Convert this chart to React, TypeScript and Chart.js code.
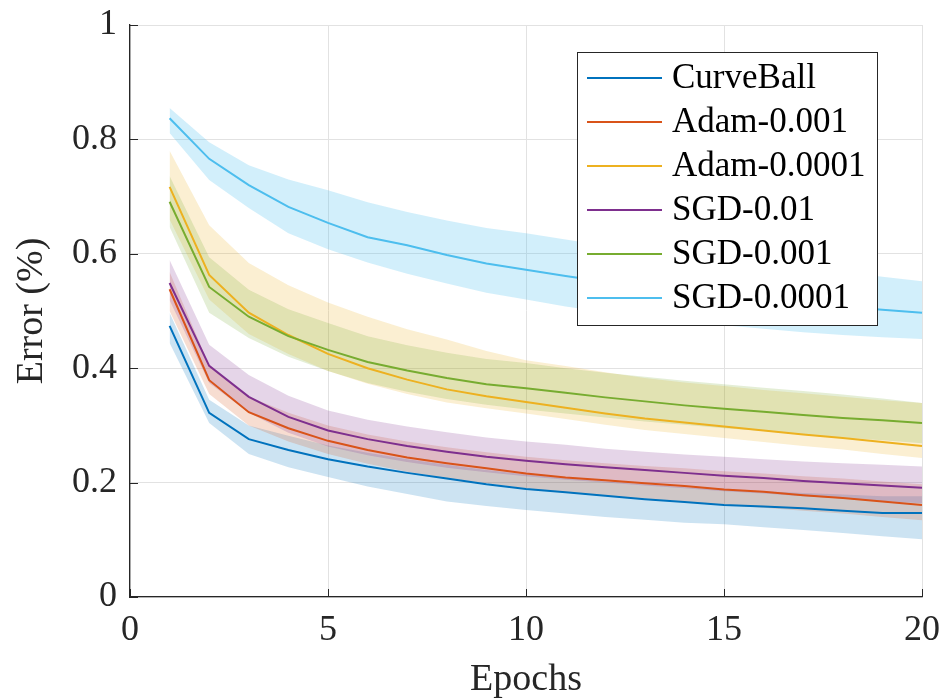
import React, { useEffect, useRef } from 'react';
import { Chart, registerables } from 'chart.js';

Chart.register(...registerables);

const epochs = [1, 2, 3, 4, 5, 6, 7, 8, 9, 10, 11, 12, 13, 14, 15, 16, 17, 18, 19, 20];

const seriesLabels = ['CurveBall', 'Adam-0.001', 'Adam-0.0001', 'SGD-0.01', 'SGD-0.001', 'SGD-0.0001'];

const curveBallMean = [0.474, 0.322, 0.276, 0.257, 0.241, 0.228, 0.217, 0.207, 0.197, 0.189, 0.183, 0.177, 0.171, 0.166, 0.161, 0.158, 0.155, 0.151, 0.147, 0.147];
const curveBallUpper = [0.497, 0.345, 0.300, 0.282, 0.265, 0.252, 0.241, 0.231, 0.222, 0.214, 0.208, 0.202, 0.197, 0.192, 0.188, 0.185, 0.182, 0.179, 0.176, 0.176];
const curveBallLower = [0.444, 0.304, 0.250, 0.227, 0.210, 0.193, 0.180, 0.167, 0.159, 0.152, 0.146, 0.140, 0.135, 0.130, 0.127, 0.122, 0.117, 0.112, 0.106, 0.101];

const adam1Mean = [0.538, 0.379, 0.323, 0.295, 0.273, 0.257, 0.244, 0.234, 0.225, 0.216, 0.209, 0.204, 0.199, 0.194, 0.188, 0.184, 0.178, 0.173, 0.167, 0.161];
const adam1Upper = [0.568, 0.405, 0.350, 0.322, 0.300, 0.284, 0.272, 0.262, 0.253, 0.245, 0.239, 0.234, 0.229, 0.225, 0.220, 0.216, 0.211, 0.207, 0.202, 0.197];
const adam1Lower = [0.500, 0.355, 0.300, 0.272, 0.250, 0.233, 0.219, 0.208, 0.199, 0.190, 0.183, 0.177, 0.172, 0.167, 0.161, 0.156, 0.151, 0.146, 0.140, 0.134];

const adam2Mean = [0.717, 0.563, 0.497, 0.458, 0.425, 0.400, 0.380, 0.363, 0.351, 0.341, 0.331, 0.321, 0.312, 0.305, 0.298, 0.291, 0.284, 0.278, 0.271, 0.264];
const adam2Upper = [0.780, 0.650, 0.584, 0.545, 0.515, 0.490, 0.468, 0.450, 0.430, 0.414, 0.404, 0.393, 0.383, 0.375, 0.369, 0.362, 0.356, 0.350, 0.344, 0.339];
const adam2Lower = [0.660, 0.520, 0.460, 0.425, 0.395, 0.373, 0.355, 0.340, 0.330, 0.321, 0.311, 0.301, 0.292, 0.285, 0.278, 0.271, 0.264, 0.258, 0.250, 0.243];

const sgd1Mean = [0.549, 0.404, 0.350, 0.315, 0.291, 0.276, 0.264, 0.254, 0.245, 0.238, 0.232, 0.227, 0.222, 0.217, 0.212, 0.208, 0.203, 0.199, 0.195, 0.191];
const sgd1Upper = [0.589, 0.441, 0.388, 0.352, 0.326, 0.310, 0.298, 0.288, 0.279, 0.272, 0.266, 0.259, 0.254, 0.249, 0.245, 0.241, 0.237, 0.234, 0.231, 0.228];
const sgd1Lower = [0.519, 0.374, 0.322, 0.287, 0.263, 0.248, 0.236, 0.226, 0.218, 0.211, 0.205, 0.200, 0.195, 0.190, 0.185, 0.181, 0.176, 0.172, 0.168, 0.164];

const sgd2Mean = [0.691, 0.542, 0.490, 0.456, 0.432, 0.411, 0.396, 0.383, 0.372, 0.365, 0.357, 0.349, 0.342, 0.335, 0.329, 0.324, 0.318, 0.313, 0.309, 0.304];
const sgd2Upper = [0.736, 0.594, 0.537, 0.503, 0.479, 0.456, 0.440, 0.427, 0.416, 0.409, 0.400, 0.392, 0.385, 0.378, 0.372, 0.366, 0.360, 0.354, 0.347, 0.339];
const sgd2Lower = [0.647, 0.497, 0.453, 0.420, 0.395, 0.374, 0.359, 0.346, 0.336, 0.328, 0.321, 0.314, 0.307, 0.301, 0.295, 0.290, 0.284, 0.279, 0.274, 0.269];

const sgd3Mean = [0.837, 0.766, 0.720, 0.682, 0.654, 0.629, 0.615, 0.598, 0.583, 0.572, 0.561, 0.551, 0.542, 0.534, 0.527, 0.521, 0.514, 0.508, 0.502, 0.497];
const sgd3Upper = [0.855, 0.795, 0.755, 0.730, 0.711, 0.690, 0.673, 0.658, 0.645, 0.636, 0.625, 0.614, 0.605, 0.597, 0.589, 0.582, 0.575, 0.568, 0.560, 0.552];
const sgd3Lower = [0.811, 0.729, 0.680, 0.636, 0.608, 0.585, 0.565, 0.548, 0.532, 0.520, 0.508, 0.498, 0.490, 0.482, 0.475, 0.469, 0.463, 0.458, 0.454, 0.451];

const xTickLabels = ['0', '5', '10', '15', '20'];
const yTickLabels = ['0', '0.2', '0.4', '0.6', '0.8', '1'];

const seriesMeans = [curveBallMean, adam1Mean, adam2Mean, sgd1Mean, sgd2Mean, sgd3Mean];
const seriesUppers = [curveBallUpper, adam1Upper, adam2Upper, sgd1Upper, sgd2Upper, sgd3Upper];
const seriesLowers = [curveBallLower, adam1Lower, adam2Lower, sgd1Lower, sgd2Lower, sgd3Lower];

const lineColors = ['rgb(0,114,189)', 'rgb(217,83,25)', 'rgb(237,177,32)', 'rgb(126,47,142)', 'rgb(119,172,48)', 'rgb(77,190,238)'];
const bandColors = ['rgba(0,114,189,0.2)', 'rgba(217,83,25,0.2)', 'rgba(237,177,32,0.2)', 'rgba(126,47,142,0.2)', 'rgba(119,172,48,0.2)', 'rgba(77,190,238,0.25)'];

const FONT = "'Liberation Serif', 'DejaVu Serif', serif";
const AXIS_COLOR = '#262626';

const toPoints = (vals: number[]) => vals.map((v, i) => ({ x: epochs[i], y: v }));

const innerTicksPlugin = {
  id: 'innerTicks',
  afterDatasetsDraw(chart: any) {
    const { ctx, chartArea, scales } = chart;
    ctx.save();
    ctx.strokeStyle = AXIS_COLOR;
    ctx.lineWidth = 1;
    const len = 8;
    scales.y.ticks.forEach((t: any) => {
      const py = Math.round(scales.y.getPixelForValue(t.value)) + 0.5;
      ctx.beginPath();
      ctx.moveTo(chartArea.left, py);
      ctx.lineTo(chartArea.left + len, py);
      ctx.stroke();
    });
    scales.x.ticks.forEach((t: any) => {
      const px = Math.round(scales.x.getPixelForValue(t.value)) + 0.5;
      ctx.beginPath();
      ctx.moveTo(px, chartArea.bottom);
      ctx.lineTo(px, chartArea.bottom - len);
      ctx.stroke();
    });
    ctx.restore();
  },
};

const boxLegendPlugin = {
  id: 'boxLegend',
  afterDraw(chart: any) {
    const { ctx } = chart;
    const x = 577, y = 52, w = 300, h = 273;
    ctx.save();
    ctx.fillStyle = '#ffffff';
    ctx.fillRect(x, y, w, h);
    ctx.strokeStyle = AXIS_COLOR;
    ctx.lineWidth = 1;
    ctx.strokeRect(x + 0.5, y + 0.5, w, h);
    ctx.font = `35px ${FONT}`;
    ctx.textBaseline = 'middle';
    ctx.textAlign = 'left';
    seriesLabels.forEach((label, i) => {
      const ry = 78 + i * 44;
      ctx.strokeStyle = lineColors[i];
      ctx.lineWidth = 2;
      ctx.beginPath();
      ctx.moveTo(587, ry);
      ctx.lineTo(662, ry);
      ctx.stroke();
      ctx.fillStyle = '#000000';
      ctx.fillText(label, 672, ry + 1);
    });
    ctx.restore();
  },
};

export default function App() {
  const ref = useRef<HTMLCanvasElement>(null);

  useEffect(() => {
    document.body.style.margin = '0';
    const canvas = ref.current;
    if (!canvas) return;

    const datasets: any[] = [];
    seriesLabels.forEach((label, i) => {
      datasets.push({
        label: label + ' upper',
        data: toPoints(seriesUppers[i]),
        borderWidth: 0,
        pointRadius: 0,
        backgroundColor: bandColors[i],
        fill: '+1',
        order: 20 - i,
      });
      datasets.push({
        label: label + ' lower',
        data: toPoints(seriesLowers[i]),
        borderWidth: 0,
        pointRadius: 0,
        fill: false,
        order: 20 - i,
      });
    });
    seriesLabels.forEach((label, i) => {
      datasets.push({
        label,
        data: toPoints(seriesMeans[i]),
        borderColor: lineColors[i],
        borderWidth: 2,
        pointRadius: 0,
        fill: false,
        tension: 0,
        order: 6 - i,
      });
    });

    const chart = new Chart(canvas, {
      type: 'line',
      data: { datasets },
      options: {
        responsive: false,
        animation: false,
        layout: { padding: { top: 25, right: 23, left: 0, bottom: 0 } },
        plugins: {
          legend: { display: false },
          tooltip: { enabled: false },
        },
        scales: {
          x: {
            type: 'linear',
            min: 0,
            max: 20,
            afterFit: (s: any) => {
              s.height = 103;
              s.paddingLeft = 0;
              s.paddingRight = 0;
            },
            ticks: {
              stepSize: 5,
              padding: 16,
              color: AXIS_COLOR,
              font: { family: FONT, size: 36, lineHeight: 1 },
              callback: (v: any) => xTickLabels[Math.round(Number(v) / 5)] ?? '',
            },
            grid: { color: '#e2e2e2', lineWidth: 1, drawTicks: false },
            border: { display: true, color: AXIS_COLOR, width: 1.3 },
            title: {
              display: true,
              text: 'Epochs',
              color: AXIS_COLOR,
              font: { family: FONT, size: 38, lineHeight: 1 },
              padding: { top: 0, bottom: 1 },
            },
          },
          y: {
            type: 'linear',
            min: 0,
            max: 1,
            afterFit: (s: any) => {
              s.width = 130;
              s.paddingTop = 0;
              s.paddingBottom = 0;
            },
            ticks: {
              stepSize: 0.2,
              padding: 13,
              color: AXIS_COLOR,
              font: { family: FONT, size: 36, lineHeight: 1 },
              callback: (v: any) => yTickLabels[Math.round(Number(v) / 0.2)] ?? '',
            },
            grid: { color: '#e2e2e2', lineWidth: 1, drawTicks: false },
            border: { display: true, color: AXIS_COLOR, width: 1.3 },
            title: {
              display: true,
              text: 'Error (%)',
              color: AXIS_COLOR,
              font: { family: FONT, size: 38, lineHeight: 1 },
              padding: { top: 13, bottom: 0 },
            },
          },
        },
      },
      plugins: [innerTicksPlugin, boxLegendPlugin],
    });

    return () => chart.destroy();
  }, []);

  return (
    <div style={{ width: 945, height: 700, position: 'relative' }}>
      <canvas ref={ref} width={945} height={700} style={{ display: 'block' }} />
    </div>
  );
}
